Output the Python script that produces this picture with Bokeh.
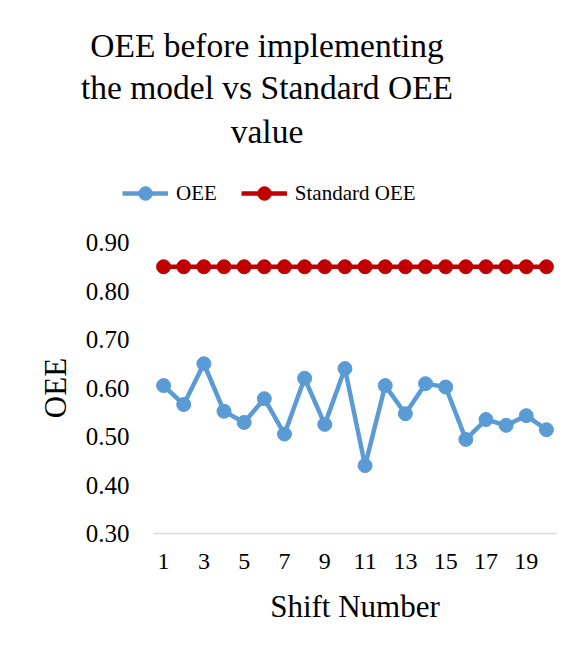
from bokeh.plotting import figure
from bokeh.models import (Legend, LegendItem, FixedTicker, Range1d, Label,
                          CustomJSTickFormatter)
from bokeh.embed import file_html
from bokeh.resources import INLINE

shifts = list(range(1, 21))
oee = [0.605, 0.566, 0.650, 0.552, 0.529, 0.578, 0.505, 0.620, 0.525, 0.640,
       0.440, 0.605, 0.547, 0.609, 0.602, 0.494, 0.535, 0.523, 0.543, 0.514]
standard_oee = [0.85] * 20
y_ticks = [0.30, 0.40, 0.50, 0.60, 0.70, 0.80, 0.90]
x_ticks = [1, 3, 5, 7, 9, 11, 13, 15, 17, 19]
title_lines = ["OEE before implementing", "the model vs Standard OEE", "value"]

FONT = "Liberation Serif"
BLUE = "#5b9bd5"
RED = "#c00000"
W = 571
HEAD_H = 225
MAIN_H = 644 - HEAD_H

# ---------------- header figure: title + legend ----------------
head = figure(width=W, height=HEAD_H, output_backend="svg", toolbar_location=None,
              x_range=Range1d(0, W), y_range=Range1d(HEAD_H, 0),
              x_axis_location=None, y_axis_location=None,
              min_border_left=0, min_border_right=0, min_border_top=0, min_border_bottom=0)
head.outline_line_color = None
head.xgrid.grid_line_color = None
head.ygrid.grid_line_color = None
head.extra_y_ranges = {"hidden": Range1d(100, 101)}

title_baselines = [45, 87, 131]
for txt, ty in zip(title_lines, title_baselines):
    head.add_layout(Label(x=266.5, y=ty, text=txt, text_align="center",
                          text_baseline="alphabetic", text_font=FONT,
                          text_font_size="33.5px", text_color="#000000"))

h1 = head.line(shifts, oee, line_color=BLUE, line_width=4.5, y_range_name="hidden")
h1s = head.scatter(shifts, oee, size=14, fill_color=BLUE, line_color=BLUE, y_range_name="hidden")
h2 = head.line(shifts, standard_oee, line_color=RED, line_width=4.5, y_range_name="hidden")
h2s = head.scatter(shifts, standard_oee, size=14, fill_color=RED, line_color=RED, y_range_name="hidden")

legend = Legend(items=[LegendItem(label="OEE", renderers=[h1, h1s]),
                       LegendItem(label="Standard OEE", renderers=[h2, h2s])],
                orientation="horizontal", location=(122, 15),
                label_text_font=FONT, label_text_font_size="21px", label_text_color="#000000",
                glyph_width=46, glyph_height=34, label_height=34, label_standoff=8, spacing=24,
                padding=0, margin=0, border_line_color=None, background_fill_alpha=0)
head.add_layout(legend, "center")

# ---------------- main chart ----------------
p = figure(width=W, height=MAIN_H, output_backend="svg", toolbar_location=None, title=None,
           x_range=Range1d(0.5, 20.5), y_range=Range1d(0.30, 0.90),
           min_border_left=153, min_border_right=15, min_border_top=242 - HEAD_H,
           min_border_bottom=MAIN_H - (533 - HEAD_H))
p.outline_line_color = None
p.xgrid.grid_line_color = None
p.ygrid.grid_line_color = None

p.line(shifts, oee, line_color=BLUE, line_width=4.5)
p.scatter(shifts, oee, size=14, fill_color=BLUE, line_color=BLUE)
p.line(shifts, standard_oee, line_color=RED, line_width=4.5)
p.scatter(shifts, standard_oee, size=14, fill_color=RED, line_color=RED)

p.yaxis.ticker = FixedTicker(ticks=y_ticks)
p.yaxis.formatter = CustomJSTickFormatter(code="return tick.toFixed(2);")
p.yaxis.axis_line_color = None
p.yaxis.major_tick_line_color = None
p.yaxis.minor_tick_line_color = None
p.yaxis.major_label_text_font = FONT
p.yaxis.major_label_text_font_size = "25px"
p.yaxis.major_label_text_color = "#000000"
p.yaxis.major_label_standoff = 18
p.yaxis.axis_label = "OEE"
p.yaxis.axis_label_text_font = FONT
p.yaxis.axis_label_text_font_size = "31px"
p.yaxis.axis_label_text_font_style = "normal"
p.yaxis.axis_label_text_color = "#000000"
p.yaxis.axis_label_standoff = 10

p.xaxis.ticker = FixedTicker(ticks=x_ticks)
p.xaxis.axis_line_color = "#d9d9d9"
p.xaxis.axis_line_width = 1.5
p.xaxis.major_tick_line_color = None
p.xaxis.minor_tick_line_color = None
p.xaxis.major_label_text_font = FONT
p.xaxis.major_label_text_font_size = "24px"
p.xaxis.major_label_text_color = "#000000"
p.xaxis.major_label_standoff = 14
p.xaxis.axis_label = "Shift Number"
p.xaxis.axis_label_text_font = FONT
p.xaxis.axis_label_text_font_size = "31px"
p.xaxis.axis_label_text_font_style = "normal"
p.xaxis.axis_label_text_color = "#000000"
p.xaxis.axis_label_standoff = 17

open("out.html", "w").write(file_html([head, p], INLINE))
